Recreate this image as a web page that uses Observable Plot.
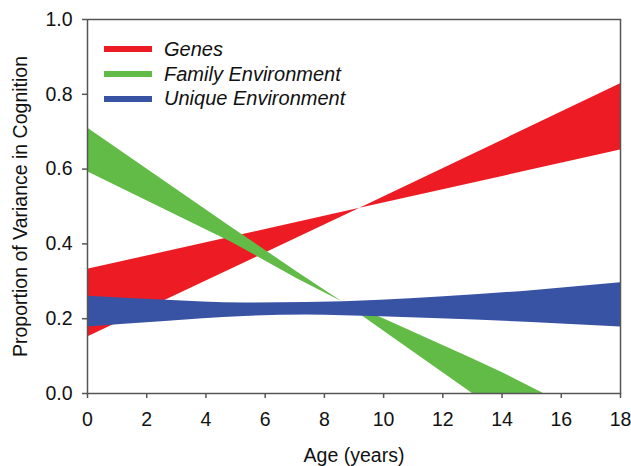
<!DOCTYPE html>
<html><head><meta charset="utf-8">
<script src="https://cdn.jsdelivr.net/npm/d3@7"></script>
<script src="https://cdn.jsdelivr.net/npm/@observablehq/plot@0.6"></script>
<style>
body{margin:0;background:#fff;}
#wrap{position:relative;width:631px;height:466px;}
.legend{position:absolute;left:104px;top:37px;font-family:"Liberation Sans",Arial,sans-serif;font-style:italic;font-size:20px;color:#111;}
.legend div{display:flex;align-items:center;height:24.7px;}
.legend span.sw{display:inline-block;width:48px;height:6px;margin-right:12px;}
</style></head><body><div id="wrap"></div>
<script>
// Genes band (red)
const genesAge = [0, 9.2, 18];
const genesLo  = [0.151, 0.495, 0.651];
const genesHi  = [0.332, 0.495, 0.828];
// Family Environment band (green)
const famAge = [0, 4.83, 7.08, 8.6, 10, 13, 14, 15.4];
const famLo  = [0.593, 0.406, 0.307, 0.245, 0.167, 0, 0, 0];
const famHi  = [0.71, 0.446, 0.325, 0.245, 0.2, 0.093, 0.056, 0];
// Unique Environment band (blue)
const uniAge = [0, 2.5, 5.3, 7.4, 9.9, 11.9, 15, 18];
const uniLo  = [0.178, 0.192, 0.206, 0.21, 0.205, 0.2, 0.19, 0.178];
const uniHi  = [0.26, 0.25, 0.242, 0.243, 0.249, 0.258, 0.275, 0.296];

const seriesNames = ["Genes", "Family Environment", "Unique Environment"];
const seriesColors = ["#ED1C24", "#62BB47", "#3953A4"];
const xTicks = [0, 2, 4, 6, 8, 10, 12, 14, 16, 18];
const yTicks = [0, 0.2, 0.4, 0.6, 0.8, 1.0];

const toRows = (ages, lo, hi) => ages.map((a, i) => ({age: a, lo: lo[i], hi: hi[i]}));
const bands = [
  toRows(genesAge, genesLo, genesHi),
  toRows(famAge, famLo, famHi),
  toRows(uniAge, uniLo, uniHi)
];

const chart = Plot.plot({
  width: 631, height: 466,
  marginLeft: 87, marginRight: 11, marginTop: 19, marginBottom: 73,
  style: {fontFamily: "Liberation Sans, Arial, sans-serif", fontSize: "19.5px", color: "#111", background: "#fff"},
  x: {domain: [0, 18]},
  y: {domain: [0, 1]},
  marks: [
    ...bands.map((rows, i) => Plot.areaY(rows, {x: "age", y1: "lo", y2: "hi", fill: seriesColors[i], curve: i === 2 ? "monotone-x" : "linear"})),
    Plot.frame({stroke: "#555", strokeWidth: 1.5}),
    Plot.axisX({ticks: xTicks, tickSize: 5, tickPadding: 14, stroke: "#555", strokeWidth: 1.5,
      label: "Age (years)", labelAnchor: "center", labelOffset: 68, labelArrow: "none"}),
    Plot.axisY({ticks: yTicks, tickFormat: d3.format(".1f"), tickSize: 5, tickPadding: 10, stroke: "#555", strokeWidth: 1.5,
      label: "Proportion of Variance in Cognition", labelAnchor: "center", labelOffset: 74, labelArrow: "none"})
  ]
});
const wrap = document.getElementById("wrap");
wrap.appendChild(chart);
const leg = document.createElement("div");
leg.className = "legend";
seriesNames.forEach((n, i) => {
  const row = document.createElement("div");
  const sw = document.createElement("span");
  sw.className = "sw"; sw.style.background = seriesColors[i];
  row.appendChild(sw);
  row.appendChild(document.createTextNode(n));
  leg.appendChild(row);
});
wrap.appendChild(leg);
</script></body></html>
